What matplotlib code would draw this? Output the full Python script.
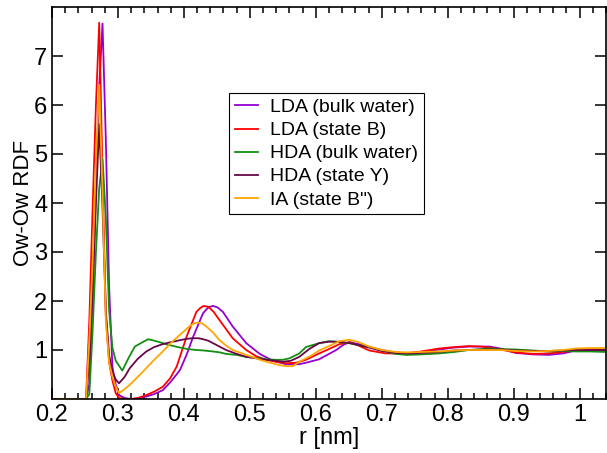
import matplotlib
matplotlib.use("Agg")
import matplotlib.pyplot as plt
import matplotlib.ticker as tkr

plt.rcParams['font.family'] = ['Liberation Sans', 'DejaVu Sans']

# LDA (bulk water)
r_lda_bulk = [0.20, 0.2516, 0.2566, 0.2616, 0.2666, 0.2716, 0.2766, 0.2816, 0.2866, 0.2916,
              0.2966, 0.3016, 0.31, 0.32, 0.33, 0.343, 0.355, 0.368, 0.38, 0.394, 0.404, 0.414,
              0.429, 0.437, 0.444, 0.451, 0.459, 0.474, 0.4945, 0.515, 0.535, 0.555, 0.575,
              0.585, 0.605, 0.62, 0.631, 0.641, 0.651, 0.665, 0.681, 0.70, 0.716, 0.737, 0.76,
              0.787, 0.81, 0.832, 0.863, 0.88, 0.903, 0.93, 0.953, 0.975, 0.994, 1.015, 1.04]
g_lda_bulk = [0, 0, 0.3, 2.0, 4.3, 6.4, 7.66, 5.3, 2.3, 0.65,
              0.3, 0.08, 0.02, 0.0, 0.01, 0.05, 0.1, 0.18, 0.35, 0.59, 0.9, 1.27,
              1.75, 1.87, 1.90, 1.87, 1.78, 1.48, 1.14, 0.92, 0.78, 0.71, 0.71,
              0.74, 0.81, 0.92, 1.0, 1.1, 1.16, 1.12, 1.06, 1.0, 0.96, 0.93, 0.96,
              1.01, 1.05, 1.07, 1.07, 1.03, 0.94, 0.91, 0.90, 0.93, 0.99, 1.0, 1.0]

# LDA (state B)
r_lda_b = [0.20, 0.2516, 0.2566, 0.2616, 0.2666, 0.2716, 0.2766, 0.2816, 0.2866, 0.2916,
           0.2966, 0.3016, 0.31, 0.32, 0.33, 0.343, 0.355, 0.368, 0.379, 0.389, 0.404, 0.419,
           0.425, 0.430, 0.437, 0.445, 0.454, 0.474, 0.4945, 0.51, 0.525, 0.54, 0.555, 0.57,
           0.585, 0.605, 0.62, 0.636, 0.651, 0.665, 0.681, 0.706, 0.737, 0.76, 0.787, 0.81,
           0.832, 0.85, 0.863, 0.88, 0.903, 0.93, 0.953, 0.975, 0.994, 1.015, 1.04]
g_lda_b = [0, 0, 1.6, 3.9, 6.0, 7.68, 4.6, 1.7, 0.75, 0.38,
           0.12, 0.02, 0.0, 0.0, 0.02, 0.08, 0.15, 0.25, 0.42, 0.66, 1.27, 1.78,
           1.86, 1.90, 1.88, 1.78, 1.61, 1.24, 1.0, 0.87, 0.80, 0.76, 0.73, 0.74,
           0.80, 0.93, 1.02, 1.12, 1.16, 1.09, 0.99, 0.93, 0.93, 0.97, 1.03, 1.06,
           1.08, 1.07, 1.05, 1.01, 0.95, 0.92, 0.93, 0.96, 1.0, 1.01, 1.01]

# HDA (bulk water)
r_hda_bulk = [0.20, 0.2516, 0.2566, 0.2616, 0.2666, 0.2716, 0.2766, 0.2816, 0.2866, 0.2916,
              0.2966, 0.3016, 0.3066, 0.3166, 0.3256, 0.336, 0.3457, 0.355, 0.363, 0.375,
              0.394, 0.405, 0.419, 0.43, 0.444, 0.455, 0.464, 0.48, 0.4945, 0.51, 0.525,
              0.54, 0.55, 0.56, 0.575, 0.585, 0.595, 0.605, 0.62, 0.635, 0.651, 0.665, 0.681,
              0.70, 0.721, 0.738, 0.76, 0.787, 0.81, 0.832, 0.863, 0.88, 0.903, 0.93, 0.953,
              0.975, 0.994, 1.015, 1.04]
g_hda_bulk = [0, 0, 0.1, 1.4, 3.0, 4.3, 4.9, 3.7, 1.8, 1.05,
              0.78, 0.68, 0.58, 0.85, 1.07, 1.15, 1.22, 1.19, 1.16, 1.11,
              1.05, 1.02, 1.0, 0.99, 0.97, 0.95, 0.92, 0.90, 0.86, 0.84, 0.81,
              0.80, 0.80, 0.83, 0.93, 1.06, 1.10, 1.14, 1.18, 1.16, 1.14, 1.10, 1.06,
              0.99, 0.92, 0.90, 0.91, 0.93, 0.96, 1.0, 1.03, 1.02, 1.01, 0.99, 0.97,
              0.98, 0.97, 0.97, 0.96]

# HDA (state Y)
r_hda_y = [0.20, 0.2516, 0.2566, 0.2616, 0.2666, 0.2716, 0.2766, 0.2816, 0.2866, 0.2916,
           0.2966, 0.3016, 0.31, 0.318, 0.33, 0.343, 0.355, 0.368, 0.38, 0.394, 0.405, 0.414,
           0.422, 0.429, 0.437, 0.444, 0.454, 0.464, 0.48, 0.4945, 0.51, 0.525, 0.54, 0.55,
           0.562, 0.575, 0.59, 0.605, 0.62, 0.635, 0.651, 0.665, 0.681, 0.70, 0.721, 0.74,
           0.76, 0.787, 0.81, 0.832, 0.863, 0.88, 0.903, 0.93, 0.953, 0.975, 0.994, 1.015, 1.04]
g_hda_y = [0, 0, 0.8, 2.3, 4.0, 5.61, 3.9, 1.8, 0.9, 0.55,
           0.4, 0.32, 0.45, 0.63, 0.82, 0.97, 1.06, 1.12, 1.16, 1.20, 1.23, 1.24,
           1.24, 1.22, 1.19, 1.14, 1.07, 1.0, 0.92, 0.86, 0.83, 0.80, 0.78, 0.76,
           0.78, 0.86, 1.02, 1.14, 1.17, 1.17, 1.14, 1.10, 1.05, 0.98, 0.94, 0.93,
           0.94, 0.96, 0.99, 1.0, 1.01, 1.01, 0.99, 0.98, 0.98, 0.99, 1.0, 1.0, 1.0]

# IA (state B")
r_ia = [0.20, 0.2466, 0.2516, 0.2566, 0.2616, 0.2666, 0.2716, 0.2766, 0.2816, 0.2866,
        0.2916, 0.2966, 0.3016, 0.31, 0.318, 0.33, 0.343, 0.355, 0.368, 0.38, 0.394, 0.409,
        0.415, 0.421, 0.428, 0.434, 0.444, 0.454, 0.464, 0.474, 0.4945, 0.52, 0.545, 0.555,
        0.565, 0.575, 0.595, 0.605, 0.62, 0.636, 0.651, 0.665, 0.681, 0.70, 0.721, 0.737,
        0.76, 0.787, 0.81, 0.832, 0.863, 0.88, 0.903, 0.93, 0.953, 0.975, 0.994, 1.015, 1.04]
g_ia = [0, 0, 0.0, 1.2, 2.8, 4.9, 6.41, 4.2, 1.6, 0.75,
        0.45, 0.25, 0.12, 0.2, 0.29, 0.45, 0.63, 0.80, 0.97, 1.14, 1.31, 1.49,
        1.54, 1.56, 1.54, 1.48, 1.36, 1.20, 1.09, 1.0, 0.90, 0.78, 0.69, 0.67,
        0.67, 0.76, 0.90, 0.99, 1.08, 1.18, 1.21, 1.16, 1.07, 1.0, 0.96, 0.95,
        0.96, 0.97, 0.99, 1.0, 1.0, 1.0, 0.98, 0.97, 0.98, 1.0, 1.03, 1.04, 1.04]

curves = [
    (r_lda_bulk, g_lda_bulk, "LDA (bulk water)", "#9400d3"),
    (r_lda_b, g_lda_b, "LDA (state B)", "#ff0000"),
    (r_hda_bulk, g_hda_bulk, "HDA (bulk water)", "#138f13"),
    (r_hda_y, g_hda_y, "HDA (state Y)", "#670748"),
    (r_ia, g_ia, "IA (state B\")", "#ffa500"),
]

fig = plt.figure(figsize=(6.07, 4.53), dpi=100)
ax = fig.add_axes([52 / 607, 54 / 453, 554 / 607, 392 / 453])

for r, g, lab, col in curves:
    ax.plot(r, g, color=col, lw=1.3, label=lab)

ax.set_xlim(0.2, 1.04)
ax.set_ylim(0, 8)
ax.xaxis.set_major_locator(tkr.MultipleLocator(0.1))
ax.xaxis.set_minor_locator(tkr.MultipleLocator(0.02))
ax.yaxis.set_major_locator(tkr.FixedLocator([1, 2, 3, 4, 5, 6, 7]))
ax.xaxis.set_major_formatter(tkr.FuncFormatter(lambda x, _: "%g" % round(x, 2)))
ax.tick_params(which="both", direction="in", top=True, right=True, labelsize=17, width=1.1)
ax.tick_params(which="major", length=8)
ax.tick_params(which="minor", length=4)
for s in ax.spines.values():
    s.set_linewidth(1.2)

ax.set_xlabel("r [nm]", fontsize=17, labelpad=1)
ax.set_ylabel("Ow-Ow RDF", fontsize=16, labelpad=0)

leg = ax.legend(loc="upper left", bbox_to_anchor=(0.3195, 0.781), borderaxespad=0,
                fontsize=14, handlelength=1.2, handletextpad=0.6, labelspacing=0.28,
                borderpad=0.3, fancybox=False, framealpha=1)
leg.get_frame().set_edgecolor("black")
leg.get_frame().set_linewidth(0.8)

plt.savefig("out.png", dpi=100)
